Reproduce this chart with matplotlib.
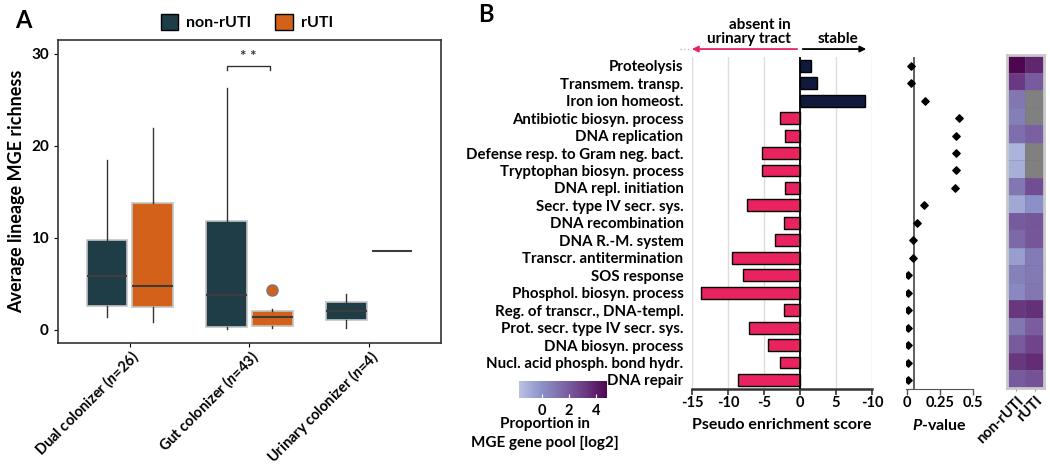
import numpy as np
import matplotlib
matplotlib.use("Agg")
import matplotlib.pyplot as plt
from matplotlib.patches import Patch
from matplotlib.colors import LinearSegmentedColormap
import matplotlib.transforms as mtransforms

plt.rcParams['font.family'] = ['Lato', 'DejaVu Sans']
plt.rcParams['font.weight'] = 'bold'
plt.rcParams['axes.labelweight'] = 'bold'
plt.rcParams['mathtext.fontset'] = 'custom'
plt.rcParams['mathtext.it'] = 'Lato:bold:italic'
plt.rcParams['mathtext.rm'] = 'Lato:bold'

# ---- panel A data (box statistics)
groups = ["Dual colonizer ($\\mathit{n}$=26)", "Gut colonizer ($\\mathit{n}$=43)",
          "Urinary colonizer ($\\mathit{n}$=4)"]
hue_names = ["non-rUTI", "rUTI"]
non_q1 = [2.6, 0.3, 1.1]
non_med = [5.8, 3.8, 2.07]
non_q3 = [9.8, 11.8, 3.0]
non_lo = [1.4, 0.1, 0.2]
non_hi = [18.5, 26.3, 3.9]
non_fl = [[], [], []]
r_q1 = [2.5, 0.43, 8.6]
r_med = [4.8, 1.4, 8.6]
r_q3 = [13.8, 2.0, 8.6]
r_lo = [0.9, 0.25, 8.6]
r_hi = [21.9, 2.25, 8.6]
r_fl = [[], [4.3], []]

# ---- panel B data
terms = ["Proteolysis", "Transmem. transp.", "Iron ion homeost.", "Antibiotic biosyn. process",
         "DNA replication", "Defense resp. to Gram neg. bact.", "Tryptophan biosyn. process",
         "DNA repl. initiation", "Secr. type IV secr. sys.", "DNA recombination",
         "DNA R.-M. system", "Transcr. antitermination", "SOS response",
         "Phosphol. biosyn. process", "Reg. of transcr., DNA-templ.",
         "Prot. secr. type IV secr. sys.", "DNA biosyn. process",
         "Nucl. acid phosph. bond hydr.", "DNA repair"]
score = [1.6, 2.4, 9.0, -2.7, -2.1, -5.2, -5.2, -2.1, -7.3, -2.2, -3.4,
         -9.4, -7.9, -13.8, -2.2, -7.1, -4.5, -2.7, -8.6]
pval = [0.025, 0.025, 0.135, 0.39, 0.37, 0.37, 0.37, 0.36, 0.125, 0.07, 0.046,
        0.044, 0.008, 0.008, 0.005, 0.003, 0.003, 0.003, 0.003]
prop_non = [4.8, 3.2, 1.0, 0.7, 1.3, -1.2, -1.0, 1.0, -0.8, 2.0, 1.5,
            -0.5, 0.6, 0.3, 3.3, 1.0, 2.0, 3.3, 2.0]
prop_r = [3.8, 2.0, np.nan, np.nan, 1.8, np.nan, np.nan, 2.5, 0.0, 2.2, 2.2,
          0.8, 0.9, 1.0, 3.5, 1.9, 2.8, 3.6, 2.3]
score_ticks = [-15, -10, -5, 0, 5, 10]
score_ticklabels = ["-15", "-10", "-5", "0", "5", "-10"]

c_non = "#1f3d47"
c_r = "#d4611a"
c_pos = "#111a3d"
c_neg = "#e8235f"

fig = plt.figure(figsize=(10.5, 4.65), dpi=100)

# ================= Panel A
axA = fig.add_axes([0.0552, 0.263, 0.3648, 0.651])
x = np.arange(len(groups))
off = 0.19
for vals, col, shift in [((non_q1, non_med, non_q3, non_lo, non_hi, non_fl), c_non, -off),
                         ((r_q1, r_med, r_q3, r_lo, r_hi, r_fl), c_r, off)]:
    q1, med, q3, lo, hi, fl = vals
    stats = []
    for i in range(len(groups)):
        stats.append(dict(q1=q1[i], med=med[i], q3=q3[i], whislo=lo[i], whishi=hi[i], fliers=fl[i]))
    axA.bxp(stats, positions=x + shift, widths=0.34, patch_artist=True, showcaps=False,
            boxprops=dict(facecolor=col, edgecolor="#c4c4c4", linewidth=1.2),
            medianprops=dict(color="#3c3c3c", linewidth=1.5),
            whiskerprops=dict(color="#333333", linewidth=1),
            flierprops=dict(marker="o", markerfacecolor=col, markeredgecolor="#777777",
                            markersize=8))
axA.set_xlim(-0.6, 2.6)
axA.set_ylim(-1.4, 31.5)
axA.set_yticks([0, 10, 20, 30])
axA.set_xticks(x)
axA.set_xticklabels(groups, rotation=45, ha="right", rotation_mode="anchor", fontsize=10.5)
axA.tick_params(axis="y", labelsize=11, length=3)
axA.tick_params(axis="x", length=3, pad=0)
for sp in axA.spines.values():
    sp.set_color("#333333")
    sp.set_linewidth(1.2)
axA.set_ylabel("Average lineage MGE richness", fontsize=13)
# significance bracket
axA.plot([0.81, 0.81, 1.17, 1.17], [28.2, 28.7, 28.7, 28.2], color="#333333", lw=1)
axA.text(0.99, 28.9, "* *", ha="center", va="bottom", fontsize=11, color="#333333")

fig.legend(handles=[Patch(facecolor=c_non, edgecolor="black", label=hue_names[0]),
                    Patch(facecolor=c_r, edgecolor="black", label=hue_names[1])],
           loc="upper center", bbox_to_anchor=(0.235, 1.0), ncol=2, frameon=False,
           fontsize=11.5, handlelength=1.1, handleheight=1.1, columnspacing=1.5,
           handletextpad=0.5)

fig.text(0.014, 0.955, "A", fontsize=17, ha="left", va="center")
fig.text(0.455, 0.968, "B", fontsize=17, ha="left", va="center")

# ================= Panel B: bar chart
axB = fig.add_axes([0.659, 0.1641, 0.1714, 0.7133])
y = np.arange(len(terms))
cols = [c_pos if s > 0 else c_neg for s in score]
axB.barh(y, score, height=0.68, color=cols, edgecolor="black", linewidth=1, zorder=3)
axB.set_ylim(len(terms) - 0.5, -0.5)
axB.set_xlim(-15, 10)
axB.set_yticks(y)
axB.set_yticklabels(terms, fontsize=10.8)
axB.tick_params(axis="y", length=0, pad=6)
axB.set_xticks(score_ticks)
axB.set_xticklabels(score_ticklabels, fontsize=10.5)
axB.tick_params(axis="x", length=4, width=1.2, color="#333333", pad=1)
for v in [-15, -10, -5, 5, 10]:
    axB.axvline(v, color="#dcdcdc", lw=1, zorder=0)
axB.axvline(0, color="black", lw=1.3, zorder=4)
for s in ["top", "right", "left"]:
    axB.spines[s].set_visible(False)
axB.spines["bottom"].set_linewidth(1.8)
axB.spines["bottom"].set_color("#333333")
axB.set_xlabel("Pseudo enrichment score", fontsize=11.5, labelpad=6)

trans = mtransforms.blended_transform_factory(axB.transData, axB.transAxes)
axB.annotate("", xy=(-15.4, 1.024), xytext=(0, 1.024), xycoords=trans, textcoords=trans,
             arrowprops=dict(arrowstyle="-|>", color=c_neg, lw=1.3, mutation_scale=9),
             annotation_clip=False)
axB.annotate("", xy=(9.6, 1.024), xytext=(0, 1.024), xycoords=trans, textcoords=trans,
             arrowprops=dict(arrowstyle="-|>", color="black", lw=1.3, mutation_scale=9),
             annotation_clip=False)
axB.plot([-16.6, -15.4], [1.024, 1.024], transform=trans, color="#bbbbbb", lw=1,
         ls=":", clip_on=False)
axB.text(-1.3, 1.032, "absent in\nurinary tract", transform=trans, ha="right", va="bottom",
         multialignment="right", fontsize=11, linespacing=1.0)
axB.text(2.5, 1.032, "stable", transform=trans, ha="left", va="bottom", fontsize=11)

# ================= Panel B: p-values
axP = fig.add_axes([0.8629, 0.1641, 0.0638, 0.7133])
axP.scatter(pval, y, marker="D", s=14, color="black", zorder=3)
axP.set_ylim(len(terms) - 0.5, -0.5)
axP.set_xlim(-0.01, 0.5)
axP.axvline(0.05, color="#333333", lw=1.1)
axP.set_yticks([])
axP.set_xticks([0, 0.25, 0.5])
axP.set_xticklabels(["0", "0.25", "0.5"], fontsize=10.5)
axP.tick_params(axis="x", length=4, width=1, color="#555555", pad=1)
for s in ["top", "right", "left"]:
    axP.spines[s].set_visible(False)
axP.spines["bottom"].set_color("#555555")
axP.set_xlabel("$\\mathit{P}$-value", fontsize=11.5, labelpad=6)

# ================= Panel B: heatmap
cmap = LinearSegmentedColormap.from_list(
    "mge", ["#bcc2e3", "#8b93c9", "#7d67a8", "#6b3a84", "#4f0650"])
cmap.set_bad("#808080")
axH = fig.add_axes([0.959, 0.1656, 0.0352, 0.7161])
grid = np.ma.masked_invalid(np.array([prop_non, prop_r]).T)
mesh = axH.pcolormesh(grid, cmap=cmap, vmin=-1.7, vmax=4.8,
                      edgecolors=(0.45, 0.45, 0.5, 0.25), linewidth=0.5)
axH.set_ylim(len(terms), 0)
axH.set_xlim(0, 2)
axH.set_yticks([])
axH.set_xticks([0.5, 1.5])
axH.set_xticklabels(hue_names, rotation=45, ha="right", rotation_mode="anchor", fontsize=10.5)
axH.tick_params(axis="x", length=2, color="#999999", pad=2)
for sp in axH.spines.values():
    sp.set_color("#c8c8c8")
    sp.set_linewidth(2)

# colorbar
cax = fig.add_axes([0.4943, 0.1441, 0.0838, 0.0366])
cb = fig.colorbar(mesh, cax=cax, orientation="horizontal", ticks=[0, 2, 4])
cb.outline.set_visible(False)
cax.tick_params(direction="in", color="white", length=3, labelsize=10.5, pad=4)
fig.text(0.519, 0.068, "Proportion in\nMGE gene pool [log2]", ha="center", va="center",
         fontsize=11, linespacing=1.5)

fig.savefig("out.png", dpi=100)
